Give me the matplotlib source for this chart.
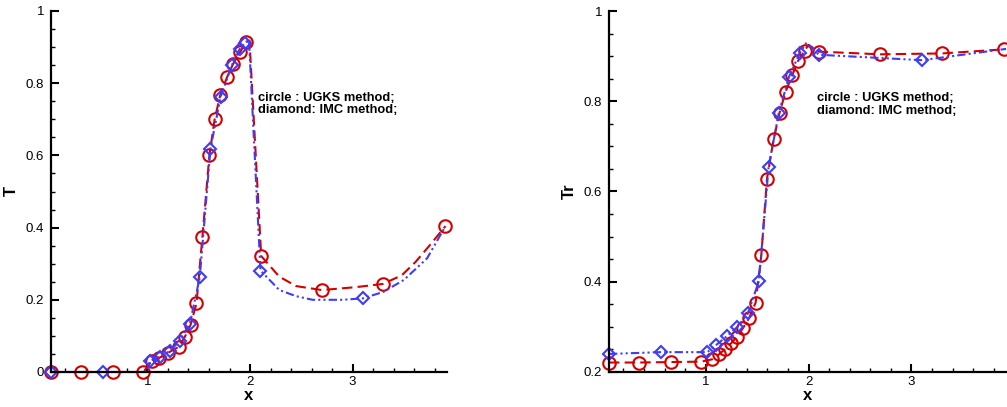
import numpy as np
import matplotlib.pyplot as plt
from matplotlib.ticker import MultipleLocator, FuncFormatter

plt.rcParams['font.family'] = ['Liberation Sans', 'DejaVu Sans']

# ---- left panel: T ----
# UGKS markers (red circles)
ugks_T_x = [0.06, 0.354, 0.66, 0.96, 1.04, 1.115, 1.20, 1.306, 1.364, 1.42, 1.478, 1.536,
            1.604, 1.655, 1.71, 1.775, 1.833, 1.905, 1.963, 2.109, 2.70, 3.296, 3.905]
ugks_T_y = [0, 0, 0, 0, 0.03, 0.039, 0.053, 0.07, 0.097, 0.13, 0.19, 0.375,
            0.60, 0.70, 0.767, 0.816, 0.852, 0.887, 0.915, 0.321, 0.227, 0.244, 0.404]
# UGKS curve
ugks_T_lx = [0.06, 0.354, 0.66, 0.96, 1.04, 1.115, 1.20, 1.306, 1.364, 1.42, 1.478, 1.536,
             1.604, 1.655, 1.71, 1.775, 1.833, 1.905, 1.963, 1.995, 2.109, 2.286, 2.449,
             2.70, 3.03, 3.296, 3.48, 3.614, 3.743, 3.905]
ugks_T_ly = [0, 0, 0, 0, 0.03, 0.039, 0.053, 0.07, 0.097, 0.13, 0.19, 0.375,
             0.60, 0.70, 0.767, 0.816, 0.852, 0.887, 0.915, 0.918, 0.321, 0.264, 0.238,
             0.227, 0.235, 0.244, 0.268, 0.305, 0.348, 0.404]

# IMC markers (blue diamonds)
imc_T_x = [0.06, 0.565, 1.024, 1.121, 1.218, 1.316, 1.413, 1.51, 1.614, 1.714, 1.823,
           1.898, 1.953, 2.102, 3.102]
imc_T_y = [0, 0, 0.031, 0.042, 0.058, 0.087, 0.133, 0.262, 0.618, 0.763, 0.85,
           0.894, 0.912, 0.281, 0.204]
imc_T_lx = [0.06, 0.565, 0.995, 1.024, 1.121, 1.218, 1.316, 1.413, 1.51, 1.614, 1.714, 1.823,
            1.898, 1.953, 1.99, 2.102, 2.286, 2.45, 2.61, 2.90, 3.102, 3.30, 3.50, 3.726, 3.905]
imc_T_ly = [0, 0, 0, 0.031, 0.042, 0.058, 0.087, 0.133, 0.262, 0.618, 0.763, 0.85,
            0.894, 0.912, 0.918, 0.281, 0.227, 0.21, 0.2, 0.2, 0.204, 0.222, 0.255, 0.315, 0.404]

# ---- right panel: Tr ----
ugks_Tr_x = [0.06, 0.351, 0.659, 0.958, 1.061, 1.129, 1.184, 1.249, 1.304, 1.362, 1.421, 1.486,
             1.541, 1.596, 1.661, 1.719, 1.777, 1.842, 1.897, 1.962, 2.101, 2.698, 3.301, 3.897]
ugks_Tr_y = [0.221, 0.221, 0.222, 0.223, 0.228, 0.239, 0.250, 0.264, 0.278, 0.297, 0.319, 0.354,
             0.459, 0.628, 0.716, 0.775, 0.821, 0.858, 0.889, 0.912, 0.910, 0.904, 0.906, 0.915]
ugks_Tr_lx = ugks_Tr_x[:20] + [2.0] + ugks_Tr_x[20:] + [3.92]
ugks_Tr_ly = ugks_Tr_y[:20] + [0.925] + ugks_Tr_y[20:] + [0.916]

imc_Tr_x = [0.06, 0.562, 1.016, 1.103, 1.21, 1.308, 1.411, 1.518, 1.612, 1.712, 1.81, 1.913,
            2.101, 3.106]
imc_Tr_y = [0.240, 0.244, 0.244, 0.260, 0.280, 0.300, 0.330, 0.402, 0.655, 0.775, 0.854, 0.906,
            0.903, 0.891]
imc_Tr_lx = imc_Tr_x[:12] + [1.98] + imc_Tr_x[12:] + [3.92]
imc_Tr_ly = imc_Tr_y[:12] + [0.93] + imc_Tr_y[12:] + [0.916]

red = '#d40000'
blue = '#3c3cff'
red_ls = (0, (5, 2.5))
blue_ls = (0, (4, 1.5, 1, 1.5, 1, 1.5))
note = 'circle : UGKS method;\ndiamond: IMC method;'

fig = plt.figure(figsize=(10.07, 4.07), dpi=100)
ax1 = fig.add_axes([51 / 1007, 35 / 407, 396 / 1007, 361 / 407])
ax2 = fig.add_axes([609 / 1007, 35 / 407, 397 / 1007, 361 / 407])


def fmt(v, pos):
    return '%g' % round(v, 3)


def style(ax, ymin, ylabel):
    ax.set_xlim(0.06, 3.92)
    ax.set_ylim(ymin, 1)
    for s in ['top', 'right']:
        ax.spines[s].set_visible(False)
    for s in ['left', 'bottom']:
        ax.spines[s].set_linewidth(1.6)
    ax.xaxis.set_major_locator(MultipleLocator(1))
    ax.xaxis.set_minor_locator(MultipleLocator(0.2))
    ax.yaxis.set_major_locator(MultipleLocator(0.2))
    ax.yaxis.set_minor_locator(MultipleLocator(0.05))
    ax.xaxis.set_major_formatter(FuncFormatter(fmt))
    ax.yaxis.set_major_formatter(FuncFormatter(fmt))
    ax.tick_params(which='major', direction='in', length=6, width=1.5, labelsize=9.5)
    ax.tick_params(which='minor', direction='in', length=3, width=1)
    ax.tick_params(axis='y', pad=5)
    ax.tick_params(axis='x', pad=3)
    ax.set_xlabel('x', fontsize=12, fontweight='bold', labelpad=0)
    ax.set_ylabel(ylabel, fontsize=12, fontweight='bold', labelpad=5)


# left
ax1.plot(ugks_T_lx, ugks_T_ly, color=red, lw=1.5, ls=red_ls, clip_on=False)
ax1.plot(ugks_T_x, ugks_T_y, 'o', mfc='none', mec=red, ms=9, mew=1.5, clip_on=False)
ax1.plot(imc_T_lx, imc_T_ly, color=blue, lw=1.5, ls=blue_ls, clip_on=False)
ax1.plot(imc_T_x, imc_T_y, 'D', mfc='none', mec=blue, ms=6.5, mew=1.5, clip_on=False)
style(ax1, 0, 'T')
ax1.text(2.08, 0.743, note, fontsize=9.3, fontweight='bold', va='center', linespacing=1.05)

# right
ax2.plot(ugks_Tr_lx, ugks_Tr_ly, color=red, lw=1.5, ls=red_ls, clip_on=False)
ax2.plot(ugks_Tr_x, ugks_Tr_y, 'o', mfc='none', mec=red, ms=9, mew=1.5, clip_on=False)
ax2.plot(imc_Tr_lx, imc_Tr_ly, color=blue, lw=1.5, ls=blue_ls, clip_on=False)
ax2.plot(imc_Tr_x, imc_Tr_y, 'D', mfc='none', mec=blue, ms=6.5, mew=1.5, clip_on=False)
style(ax2, 0.2, 'Tr')
ax2.text(2.08, 0.793, note, fontsize=9.3, fontweight='bold', va='center', linespacing=1.05)

fig.savefig('out.png', dpi=100)
